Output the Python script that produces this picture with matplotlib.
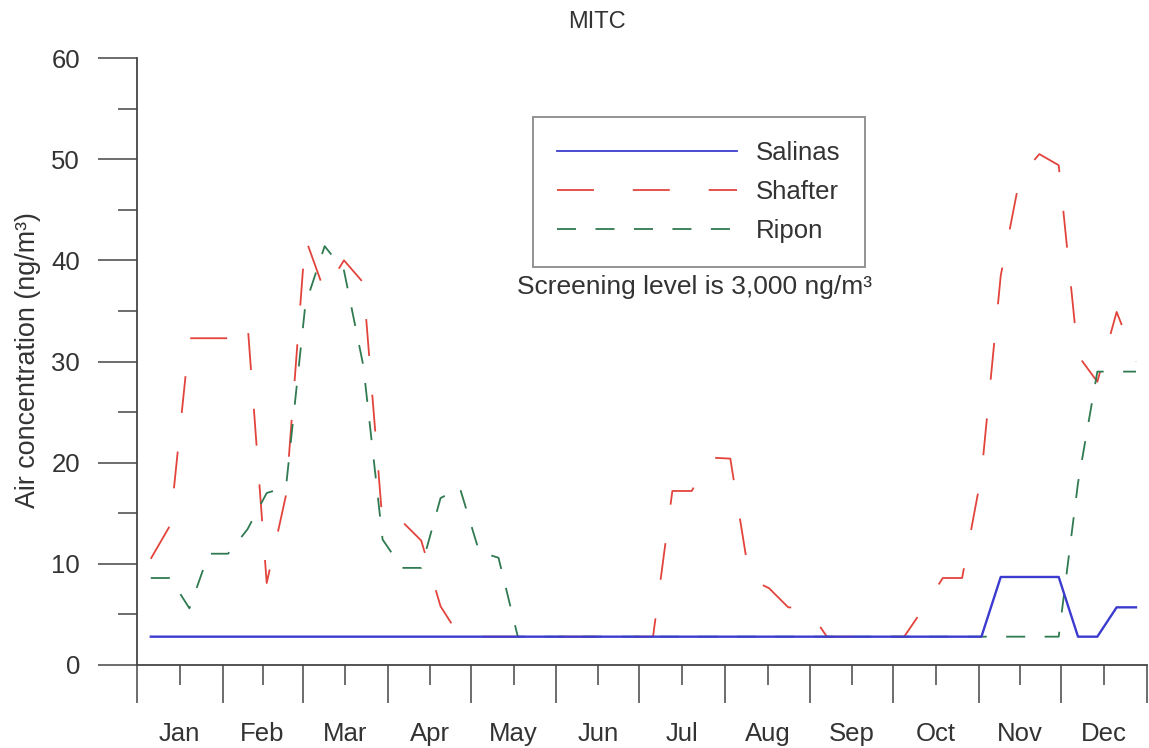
import matplotlib
matplotlib.use("Agg")
import matplotlib.pyplot as plt

plt.rcParams['font.family'] = ['Liberation Sans', 'DejaVu Sans']
plt.rcParams['font.size'] = 18.5
plt.rcParams['lines.scale_dashes'] = False

# ---- data ----
months = ["Jan", "Feb", "Mar", "Apr", "May", "Jun",
          "Jul", "Aug", "Sep", "Oct", "Nov", "Dec"]
month_days = [31, 29, 31, 30, 31, 30, 31, 31, 30, 31, 30, 31]

# weekly sampling dates (day of year)
sample_day = [5, 12, 19, 26, 33, 40, 47, 54, 61, 68, 75, 82, 89,
              96, 103, 110, 117, 124, 131, 138, 145, 152, 159, 166, 173, 180,
              187, 194, 201, 208, 215, 222, 229, 236, 243, 250, 257, 264, 271,
              278, 285, 292, 299, 306, 313, 320, 327, 334, 341, 348, 355, 362]

salinas = [2.8] * 44 + [8.7, 8.7, 8.7, 8.7, 2.8, 2.8, 5.7, 5.7]

shafter = [10.5, 13.8, 32.3, 32.3, 32.3, 34.0, 8.1, 16.8, 42.2, 36.9,
           40.0, 37.8, 14.0, 14.2, 12.3, 5.8, 2.8, 2.8, 2.8, 2.8,
           2.8, 2.8, 2.8, 2.8, 2.8, 2.8, 2.8, 17.2, 17.2, 20.5,
           20.4, 8.5, 7.6, 5.7, 5.6, 2.8, 2.8, 2.8, 2.8, 2.8,
           5.6, 8.6, 8.6, 18.8, 38.5, 48.3, 50.5, 49.4, 30.6, 28.0,
           34.9, 30.0]

ripon = [8.6, 8.6, 5.6, 11.0, 11.0, 13.4, 17.0, 17.6, 35.6, 41.4,
         39.0, 29.6, 12.4, 9.6, 9.6, 16.5, 17.5, 11.2, 10.6, 2.8,
         2.8, 2.8, 2.8, 2.8, 2.8, 2.8, 2.8, 2.8, 2.8, 2.8,
         2.8, 2.8, 2.8, 2.8, 2.8, 2.8, 2.8, 2.8, 2.8, 2.8,
         2.8, 2.8, 2.8, 2.8, 2.8, 2.8, 2.8, 2.8, 18.0, 29.0,
         29.0, 29.0]

# ---- figure ----
W, H = 1149, 748
fig = plt.figure(figsize=(W / 100, H / 100), dpi=100)
ax = fig.add_axes([137 / W, 1 - 665 / H, (1147 - 137) / W, (665 - 58) / H])

c_sal = '#3b3bcf'
c_sha = '#e2443c'
c_rip = '#2f7a50'
lw = 1.3

l_sha, = ax.plot(sample_day, shafter, color=c_sha, lw=lw,
                 dashes=(26.6, 28.0), zorder=2)
l_rip, = ax.plot(sample_day, ripon, color=c_rip, lw=lw,
                 dashes=(13.7, 14.0), zorder=2)
l_sal, = ax.plot(sample_day, salinas, color=c_sal, lw=1.7, zorder=3)

# axes
bounds = [0]
for d in month_days:
    bounds.append(bounds[-1] + d)
mids = [(bounds[k] + bounds[k + 1]) / 2 for k in range(12)]

ax.set_xlim(0, bounds[-1])
ax.set_ylim(0, 60)

ax.spines['top'].set_visible(False)
ax.spines['right'].set_visible(False)
axcol = '#454545'
for s in ('left', 'bottom'):
    ax.spines[s].set_color(axcol)
    ax.spines[s].set_linewidth(1.3)

ax.set_xticks(bounds)
ax.set_xticklabels([])
ax.set_xticks(mids, minor=True)
ax.set_xticklabels(months, minor=True)
ax.tick_params(axis='x', which='major', length=27.4, width=1.1,
               color=axcol, direction='out')
ax.tick_params(axis='x', which='minor', length=14.4, width=1.1,
               color=axcol, direction='out', pad=26.5, labelcolor='#333333')

ax.set_yticks(range(0, 61, 10))
ax.set_yticks(range(5, 60, 10), minor=True)
ax.tick_params(axis='y', which='major', length=28, width=1.1,
               color=axcol, pad=13, labelcolor='#333333')
ax.tick_params(axis='y', which='minor', length=13.7, width=1.1,
               color=axcol)

fig.text(28 / W, 1 - 360 / H, "Air concentration (ng/m³)", rotation=90,
         ha='center', va='center', color='#333333', fontsize=19.4)
fig.text(597 / W, 1 - 22 / H, "MITC", ha='center', va='center',
         fontsize=17, color='#333333')
fig.text(695 / W, 1 - 287 / H, "Screening level is 3,000 ng/m³",
         ha='center', va='center', color='#333333', fontsize=19)

leg = ax.legend([l_sal, l_sha, l_rip], ["Salinas", "Shafter", "Ripon"],
                loc='upper left', bbox_to_anchor=(533 / W, 1 - 117 / H),
                bbox_transform=fig.transFigure, borderaxespad=0,
                borderpad=0.95, handlelength=7.0, handletextpad=0.74,
                labelspacing=0.57, fancybox=False, framealpha=1,
                edgecolor='#8a8a8a')
leg.get_frame().set_linewidth(1.3)
leg.get_lines()[0].set_linewidth(1.3)
for t in leg.get_texts():
    t.set_color('#333333')

fig.savefig("out.png", dpi=100)
